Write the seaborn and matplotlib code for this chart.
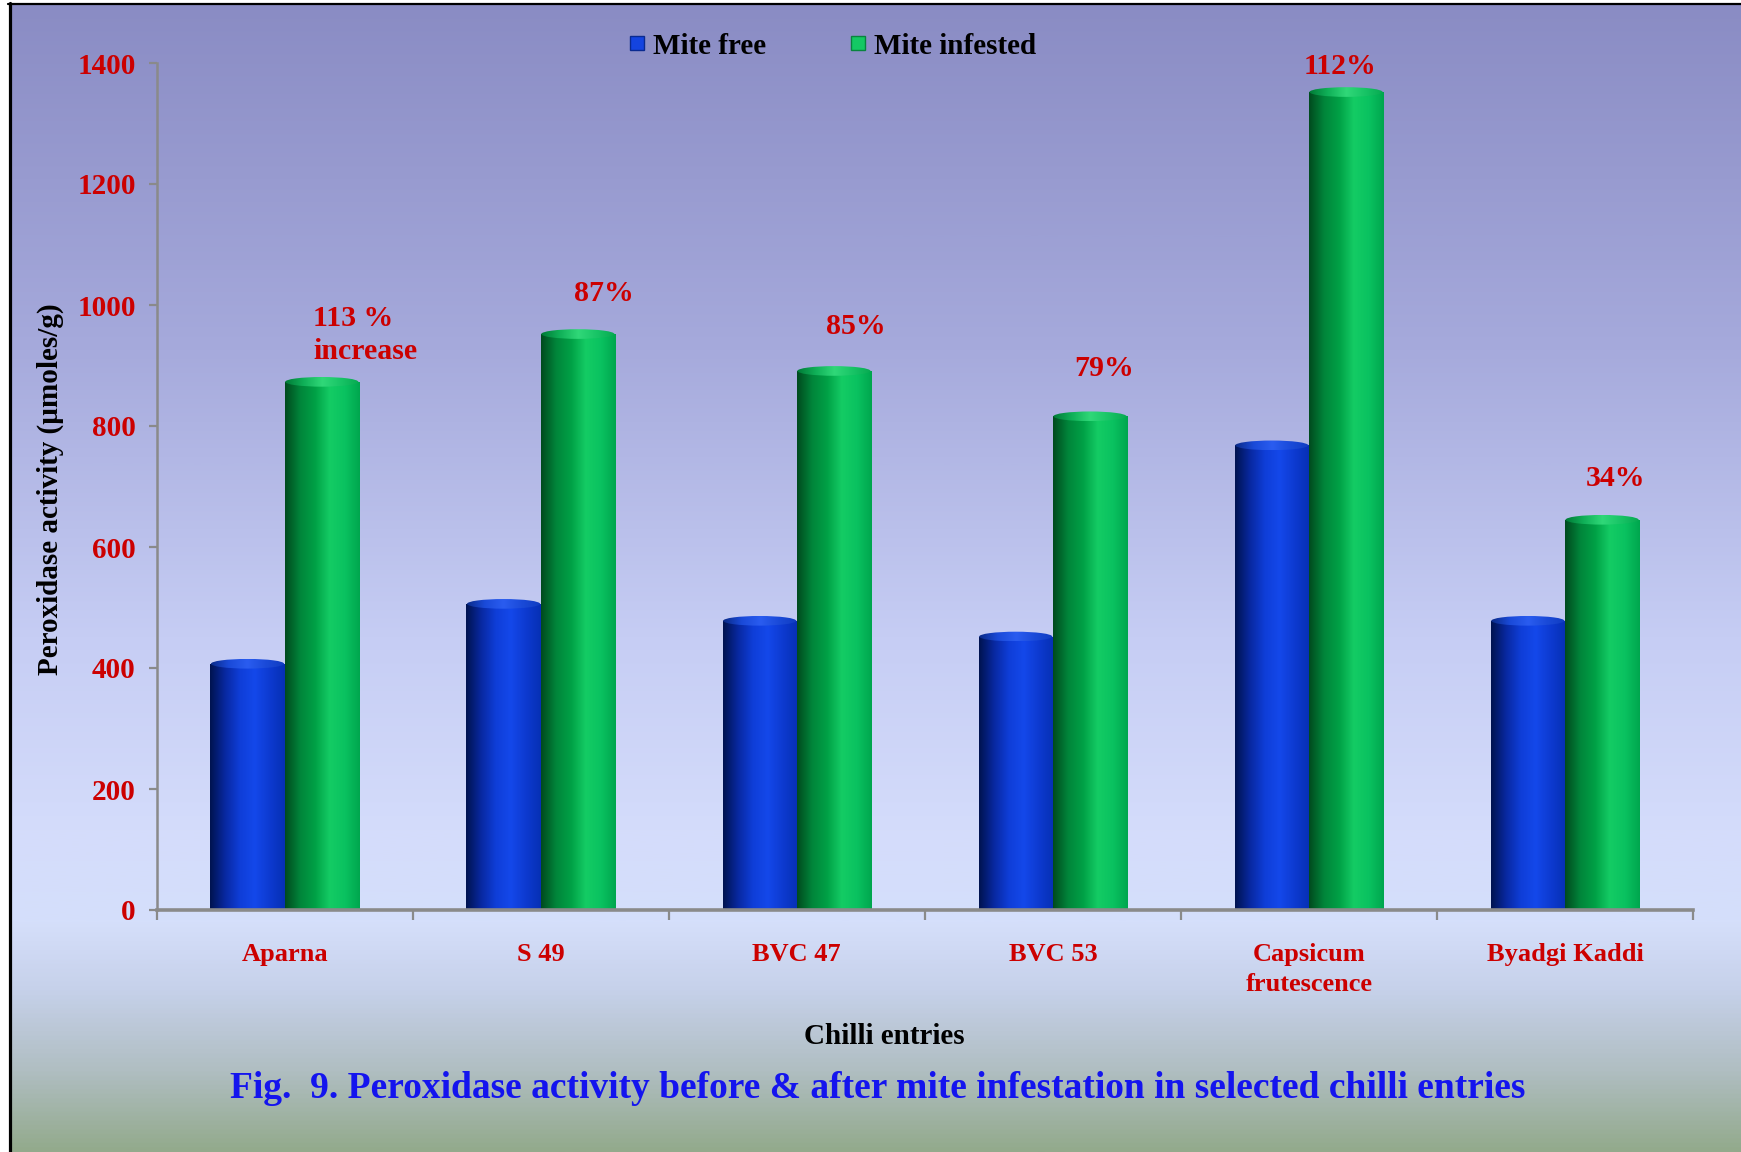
import numpy as np
import pandas as pd
import matplotlib
matplotlib.use("Agg")
import matplotlib.pyplot as plt
import seaborn as sns
from matplotlib.colors import LinearSegmentedColormap
from matplotlib.patches import Ellipse
from matplotlib.lines import Line2D

# ---- data ----
entries = ["Aparna", "S 49", "BVC 47", "BVC 53", "Capsicum\nfrutescence", "Byadgi Kaddi"]
series = ["Mite free", "Mite infested"]
mite_free = [415, 514, 486, 460, 776, 486]
mite_infested = [881, 960, 899, 824, 1360, 653]
increase_labels = ["113 %\nincrease", "87%", "85%", "79%", "112%", "34%"]
y_ticks = [0, 200, 400, 600, 800, 1000, 1200, 1400]

# placement of the increase labels (offset points from the green bar top)
label_offsets = [(-6, 30), (19, 25.5), (16, 28.5), (10, 31), (-4, 15), (9.5, 26.5)]
label_ha = ["left", "center", "center", "center", "center", "center"]

df = pd.DataFrame({
    "entry": entries * 2,
    "group": [series[0]] * len(entries) + [series[1]] * len(entries),
    "activity": mite_free + mite_infested,
})

sns.set_theme(style="white")
plt.rcParams["font.family"] = ["Liberation Serif", "DejaVu Serif"]
plt.rcParams["font.weight"] = "bold"
plt.rcParams["text.color"] = "black"

W, H = 1741, 1152
fig = plt.figure(figsize=(W / 100, H / 100), dpi=100, facecolor="white")

# ---- slide-style background gradient ----
bg = fig.add_axes([12 / W, 0, 1 - 12 / W, 1 - 5 / H], zorder=-5)
bg_cmap = LinearSegmentedColormap.from_list(
    "bg",
    [(0.0, "#8a8cc4"), (0.30, "#a6aadc"), (0.55, "#c6cdf4"), (0.72, "#d4dcfb"),
     (0.80, "#d5dffb"), (0.86, "#c6d1ea"), (0.93, "#b0bec2"), (1.0, "#93aa8c")])
grad_v = np.linspace(0, 1, 512).reshape(-1, 1)
bg.imshow(grad_v, aspect="auto", cmap=bg_cmap, extent=[0, 1, 0, 1], origin="upper")
bg.set_axis_off()

fig.add_artist(Line2D([9.5 / W, 9.5 / W], [0, 1 - 3 / H], transform=fig.transFigure,
                      color="black", lw=2.3))
fig.add_artist(Line2D([8 / W, 1], [1 - 3.5 / H, 1 - 3.5 / H], transform=fig.transFigure,
                      color="black", lw=1.6))

# ---- main axes ----
x0_px, x1_px, ytop_px, ybot_px = 156.6, 1693, 63, 910
ax = fig.add_axes([x0_px / W, 1 - ybot_px / H, (x1_px - x0_px) / W, (ybot_px - ytop_px) / H])
ax.set_facecolor("none")

sns.barplot(data=df, x="entry", y="activity", hue="group", palette=["#1040e0", "#10c060"],
            width=0.58, gap=0, saturation=1, edgecolor="none", legend=False, ax=ax)

# cylinder shading for each bar
blue_cmap = LinearSegmentedColormap.from_list(
    "b", ["#00134f", "#0828a0", "#0f3ed8", "#1448ea", "#0d3ad0", "#0630b4"])
green_cmap = LinearSegmentedColormap.from_list(
    "g", ["#004a1e", "#00853a", "#00a046", "#14cc64", "#0ac260", "#00a64e"])
blue_cap = LinearSegmentedColormap.from_list(
    "bc", ["#0a2a86", "#1a4ad8", "#2a5cf0", "#1a4ad8", "#103cc0"])
green_cap = LinearSegmentedColormap.from_list(
    "gc", ["#007a36", "#10b058", "#30d878", "#18c466", "#06a850"])
grad_h = np.linspace(0, 1, 256).reshape(1, -1)
cap_h = 16

for container, cmap, ccmap in zip(ax.containers, [blue_cmap, green_cmap], [blue_cap, green_cap]):
    for p in container.patches:
        x0, w, h = p.get_x(), p.get_width(), p.get_height()
        p.set_height(h - cap_h / 2)
        im = ax.imshow(grad_h, extent=[x0, x0 + w, 0, h - cap_h / 2], aspect="auto",
                       cmap=cmap, zorder=3, interpolation="bilinear")
        im.set_clip_path(p)
        e = Ellipse((x0 + w / 2, h - cap_h / 2), w * 0.985, cap_h, facecolor="none",
                    edgecolor="none", transform=ax.transData)
        ax.add_patch(e)
        im2 = ax.imshow(grad_h, extent=[x0, x0 + w, h - cap_h, h], aspect="auto",
                        cmap=ccmap, zorder=3.1, interpolation="bilinear")
        im2.set_clip_path(e)

ax.set_xlim(-0.5, len(entries) - 0.5)
ax.set_ylim(0, 1400)
ax.set_yticks(y_ticks)
ax.set_yticklabels([str(v) for v in y_ticks])

red = "#cc0000"
grey = "#8a8a8a"
for s in ["top", "right"]:
    ax.spines[s].set_visible(False)
ax.spines["left"].set_color(grey)
ax.spines["left"].set_linewidth(1.8)
ax.spines["bottom"].set_color(grey)
ax.spines["bottom"].set_linewidth(2.6)
ax.spines["left"].set_zorder(5)
ax.spines["bottom"].set_zorder(5)

ax.tick_params(axis="y", direction="out", length=6, width=1.6, color=grey,
               labelcolor=red, labelsize=21, pad=9, left=True)
ax.set_xticks(range(len(entries)))
ax.set_xticklabels(entries, linespacing=1.35)
ax.set_xticks(np.arange(-0.5, len(entries)), minor=True)
ax.tick_params(axis="x", which="major", length=0, labelcolor=red, labelsize=19, pad=24)
ax.tick_params(axis="x", which="minor", direction="out", length=7, width=1.6, color=grey,
               bottom=True)
for t in ax.get_xticklabels() + ax.get_yticklabels():
    t.set_fontweight("bold")

ax.set_xlabel("Chilli entries", fontsize=21, fontweight="bold", color="black", va="center")
ax.xaxis.set_label_coords((884 - x0_px) / (x1_px - x0_px), -(1036 - ybot_px) / (ybot_px - ytop_px))
ax.set_ylabel("Peroxidase activity (\u00b5moles/g)", fontsize=21, fontweight="bold",
              color="black", va="center")
ax.yaxis.set_label_coords((50 - x0_px) / (x1_px - x0_px), (ybot_px - 489) / (ybot_px - ytop_px))

# increase labels above the mite-infested bars
for i, (lab, val) in enumerate(zip(increase_labels, mite_infested)):
    ax.annotate(lab, xy=(i + 0.145, val), xytext=label_offsets[i], textcoords="offset points",
                ha=label_ha[i], va="center", color=red, fontsize=21.5, fontweight="bold",
                multialignment="left", linespacing=1.3, zorder=6)

# legend
handles = [Line2D([], [], marker="s", linestyle="none", markersize=10,
                  markerfacecolor=c, markeredgecolor=ec, markeredgewidth=1)
           for c, ec in [("#1444e0", "#0a2a90"), ("#14c864", "#08843e")]]
leg = fig.legend(handles, series, loc="center", bbox_to_anchor=(831 / W, 1 - 46 / H), ncol=2,
                 frameon=False, columnspacing=2.75, handletextpad=0.15, handlelength=0.8,
                 prop={"family": "Liberation Serif", "weight": "bold", "size": 21})
for t in leg.get_texts():
    t.set_color("black")

fig.text(878 / W, 1 - 1088 / H,
         "Fig.  9. Peroxidase activity before & after mite infestation in selected chilli entries",
         ha="center", va="center", color="#1414ee", fontsize=27, fontweight="bold")

fig.savefig("out.png", dpi=100, facecolor=fig.get_facecolor())
